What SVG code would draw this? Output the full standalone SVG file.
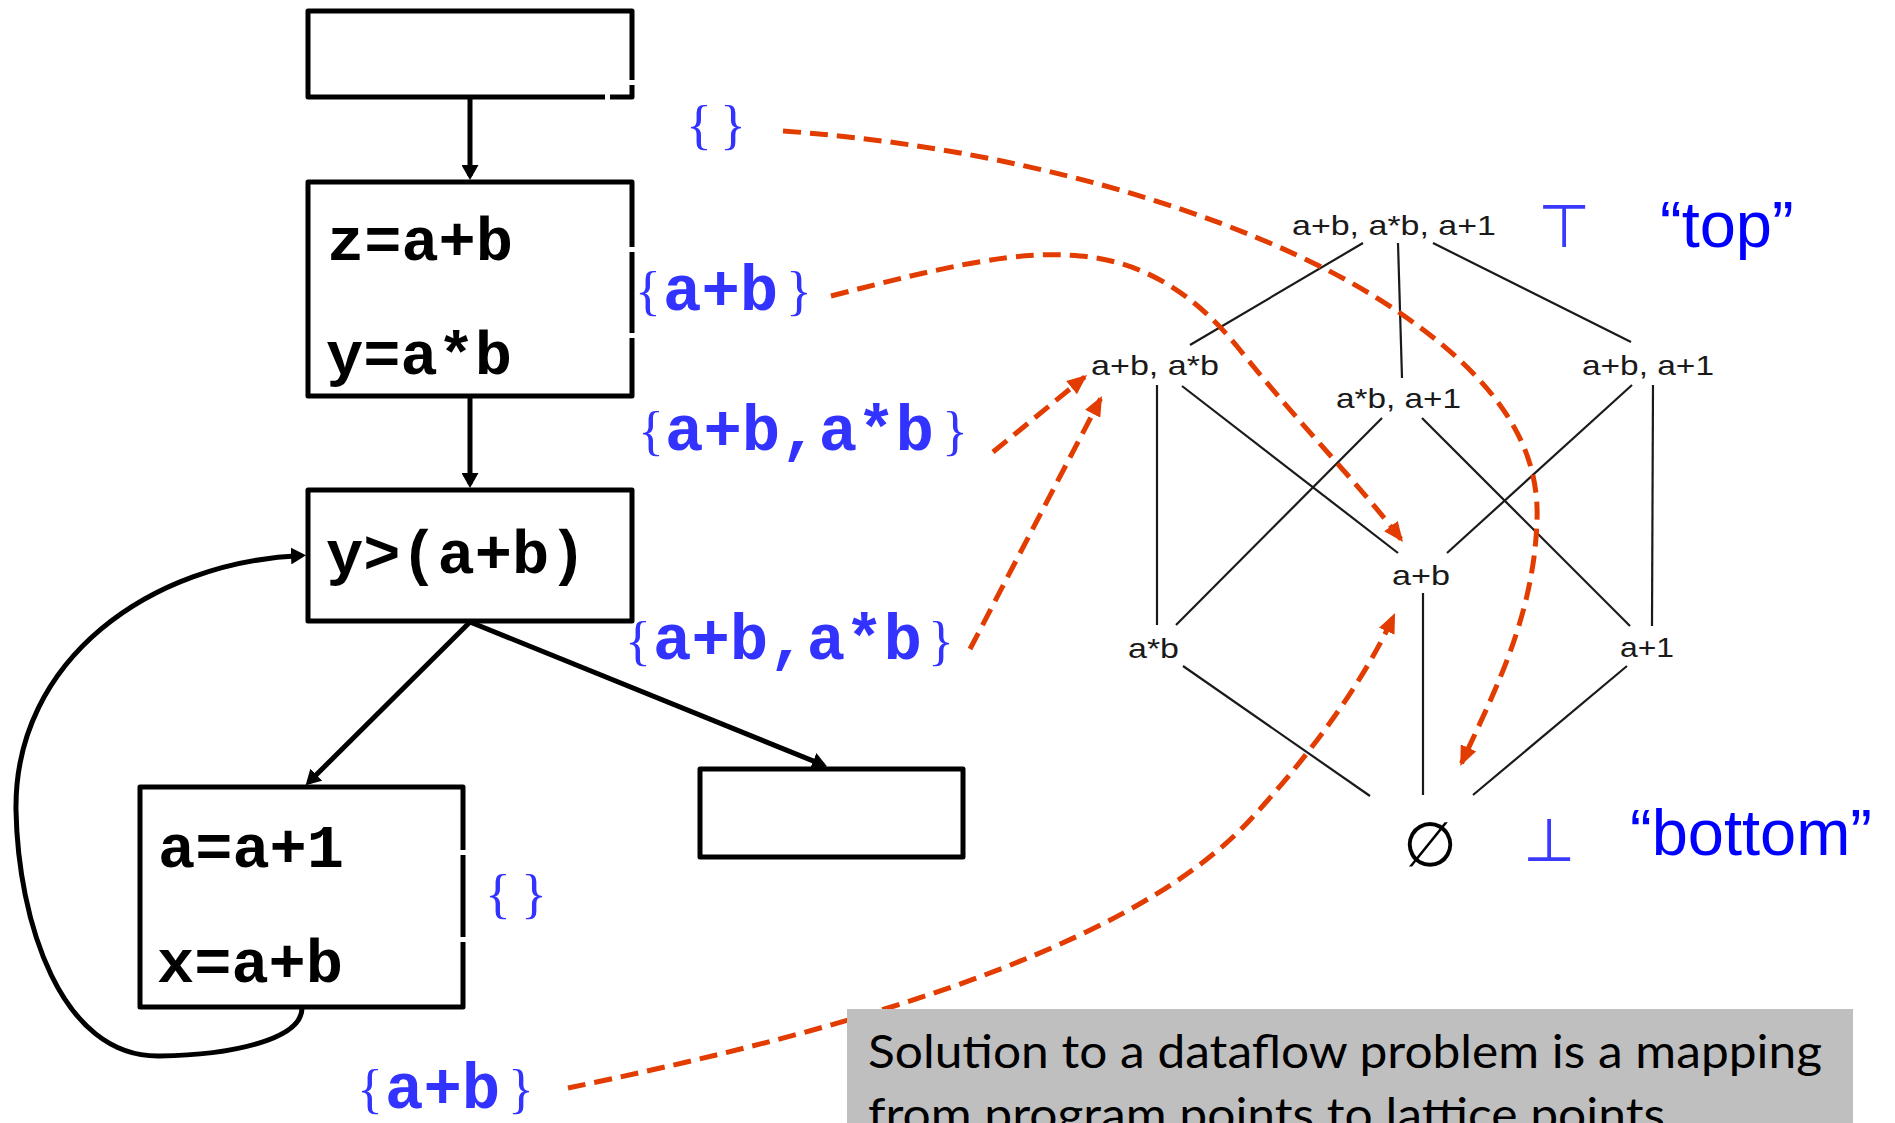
<svg xmlns="http://www.w3.org/2000/svg" width="1895" height="1123" viewBox="0 0 1895 1123">
<style>
.box{fill:#fff;stroke:#000;stroke-width:5;stroke-linejoin:round}
.gap{fill:#fff}
.code{font-family:"Liberation Mono",monospace;font-weight:bold;font-size:62px;fill:#000}
.lbl{font-family:"Liberation Mono",monospace;font-weight:bold;font-size:64px;fill:#3333FF}
.br{font-family:"Liberation Serif",serif;font-weight:normal;font-size:54px}
.edge{fill:none;stroke:#000;stroke-width:5}
.dash{fill:none;stroke:#E23C00;stroke-width:5;stroke-dasharray:18 9}
.lat{fill:none;stroke:#1a1a1a;stroke-width:2.2}
.lt{font-family:"Liberation Sans",Arial,sans-serif;font-size:28px;fill:#1a1a1a}
.sym{font-family:"DejaVu Sans",sans-serif;font-weight:200;fill:#3a3aff}
.word{font-family:"Liberation Sans",Arial,sans-serif;font-size:65px;fill:#0000FF}
.note{font-family:Lato,"Open Sans",sans-serif;font-size:46px;fill:#000}
</style>
<defs>
<marker id="ah" viewBox="0 0 15 17" refX="11" refY="8.5" markerWidth="15" markerHeight="17" markerUnits="userSpaceOnUse" orient="auto">
<path d="M0,0 L15,8.5 L0,17 z" fill="#000"/>
</marker>
<marker id="oh" viewBox="0 0 20 17" refX="17" refY="8.5" markerWidth="20" markerHeight="17" markerUnits="userSpaceOnUse" orient="auto">
<path d="M0,0 L20,8.5 L0,17 z" fill="#E23C00"/>
</marker>
</defs>

<g id="cfg-edges">
<line class="edge" x1="470" y1="99" x2="470" y2="176" marker-end="url(#ah)"/>
<line class="edge" x1="470" y1="397" x2="470" y2="484" marker-end="url(#ah)"/>
<line class="edge" x1="470" y1="622" x2="308.5" y2="782.5" marker-end="url(#ah)"/>
<line class="edge" x1="470" y1="622" x2="823.4" y2="765.1" marker-end="url(#ah)"/>
<path class="edge" d="M302,1008 C302,1040 230,1055 160,1056 C60,1058 18,920 16,810 C14,660 150,562 302,555.5" marker-end="url(#ah)"/>
</g>

<g id="n-entry">
<rect class="box" x="308" y="11" width="324" height="86"/>
<rect class="gap" x="628" y="80" width="8" height="5"/>
<rect class="gap" x="605" y="93" width="5" height="8"/>
</g>
<g id="n-b1">
<rect class="box" x="308" y="182" width="324" height="214"/>
<rect class="gap" x="628" y="247" width="8" height="5"/>
<rect class="gap" x="628" y="333" width="8" height="5"/>
<text class="code" x="327" y="260">z=a+b</text>
<text class="code" x="326" y="374">y=a*b</text>
</g>
<g id="n-cond">
<rect class="box" x="308" y="490" width="324" height="131"/>
<text class="code" x="326" y="573">y&gt;(a+b)</text>
</g>
<g id="n-loop">
<rect class="box" x="140" y="787" width="323" height="220"/>
<rect class="gap" x="459" y="850" width="8" height="5"/>
<rect class="gap" x="459" y="937" width="8" height="5"/>
<text class="code" x="158" y="867">a=a+1</text>
<text class="code" x="157" y="982">x=a+b</text>
</g>
<g id="n-exit">
<rect class="box" x="700" y="769" width="263" height="88"/>
</g>

<g id="labels">
<text class="lbl"><tspan class="br" x="686" y="143">{</tspan><tspan class="br" x="720" y="143">}</tspan></text>
<text class="lbl"><tspan class="br" x="635" y="309">{</tspan><tspan x="663" y="310">a+b</tspan><tspan class="br" x="786" y="309">}</tspan></text>
<text class="lbl"><tspan class="br" x="638" y="449">{</tspan><tspan x="665" y="450">a+b,a*b</tspan><tspan class="br" x="942" y="449">}</tspan></text>
<text class="lbl"><tspan class="br" x="625" y="659">{</tspan><tspan x="653" y="659">a+b,a*b</tspan><tspan class="br" x="928" y="659">}</tspan></text>
<text class="lbl"><tspan class="br" x="485" y="912">{</tspan><tspan class="br" x="521" y="912">}</tspan></text>
<text class="lbl"><tspan class="br" x="357" y="1107">{</tspan><tspan x="385" y="1108">a+b</tspan><tspan class="br" x="508" y="1107">}</tspan></text>
</g>

<g id="lattice-edges">
<line class="lat" x1="1363" y1="243" x2="1190" y2="345"/>
<line class="lat" x1="1398" y1="243" x2="1402" y2="378"/>
<line class="lat" x1="1433" y1="243" x2="1631" y2="342"/>
<line class="lat" x1="1157" y1="385" x2="1157" y2="625"/>
<line class="lat" x1="1182" y1="386" x2="1398" y2="553"/>
<line class="lat" x1="1382" y1="418" x2="1176" y2="625"/>
<line class="lat" x1="1422" y1="418" x2="1630" y2="626"/>
<line class="lat" x1="1632" y1="385" x2="1447" y2="553"/>
<line class="lat" x1="1653" y1="385" x2="1652" y2="626"/>
<line class="lat" x1="1423" y1="593" x2="1423" y2="795"/>
<line class="lat" x1="1183" y1="666" x2="1370" y2="796"/>
<line class="lat" x1="1627" y1="666" x2="1473" y2="795"/>
</g>

<g id="lattice-nodes">
<g id="l-top"><text class="lt" x="1292" y="235" textLength="204" lengthAdjust="spacingAndGlyphs">a+b, a*b, a+1</text></g>
<g id="l-ab-amb"><text class="lt" x="1091" y="375" textLength="128" lengthAdjust="spacingAndGlyphs">a+b, a*b</text></g>
<g id="l-amb-a1"><text class="lt" x="1336" y="408" textLength="125" lengthAdjust="spacingAndGlyphs">a*b, a+1</text></g>
<g id="l-ab-a1"><text class="lt" x="1582" y="375" textLength="132" lengthAdjust="spacingAndGlyphs">a+b, a+1</text></g>
<g id="l-ab"><text class="lt" x="1392" y="585" textLength="58" lengthAdjust="spacingAndGlyphs">a+b</text></g>
<g id="l-amb"><text class="lt" x="1128" y="658" textLength="51" lengthAdjust="spacingAndGlyphs">a*b</text></g>
<g id="l-a1"><text class="lt" x="1620" y="657" textLength="54" lengthAdjust="spacingAndGlyphs">a+1</text></g>
<g id="l-empty"><text x="1430" y="866" text-anchor="middle" style="font-family:'DejaVu Sans',sans-serif;font-size:62px;fill:#000">∅</text></g>
</g>

<g id="legend">
<text class="sym" x="1564" y="247" text-anchor="middle" font-size="60">⊤</text>
<text class="word" x="1660" y="247">“top”</text>
<text class="sym" x="1549" y="861" text-anchor="middle" font-size="60">⊥</text>
<text class="word" x="1630" y="855">“bottom”</text>
</g>

<g id="mapping-edges">
<path class="dash" d="M783,131 C1050,150 1280,230 1400,313 C1490,375 1540,440 1537,520 C1534,620 1490,700 1461.5,763.3" marker-end="url(#oh)"/>
<path class="dash" d="M831,296 C950,265 1020,250 1080,256 C1150,262 1200,300 1240,350 C1300,425 1360,485 1401.2,539.6" marker-end="url(#oh)"/>
<path class="dash" d="M993,452 L1084.7,376.9" marker-end="url(#oh)"/>
<path class="dash" d="M970,649 L1100.6,398.7" marker-end="url(#oh)"/>
<path class="dash" d="M568,1088 C800,1040 1120,960 1250,820 C1300,766 1360,690 1393.8,615.7" marker-end="url(#oh)"/>
</g>

<g id="note">
<rect x="847" y="1009" width="1006" height="130" fill="#BFBFBF"/>
<text class="note" x="868" y="1068" textLength="954" lengthAdjust="spacingAndGlyphs">Solution to a dataflow problem is a mapping</text>
<text class="note" x="868" y="1131" textLength="797" lengthAdjust="spacingAndGlyphs">from program points to lattice points</text>
</g>
</svg>
